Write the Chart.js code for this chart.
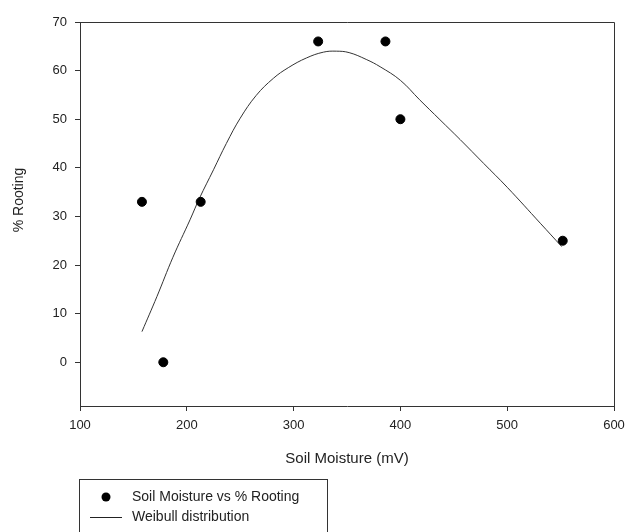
<!DOCTYPE html>
<html>
<head>
<meta charset="utf-8">
<title>Soil Moisture vs % Rooting</title>
<script src="https://cdn.jsdelivr.net/npm/chart.js@4.4.1/dist/chart.umd.min.js"></script>
<style>
    html, body { margin: 0; padding: 0; background: #fff; }
    #wrap { width: 627px; height: 532px; }
</style>
</head>
<body>
<div id="wrap"><canvas id="rootChart" width="627" height="532"></canvas></div>
<script>
// Measured points
const moistureX = [158, 178, 213, 323, 386, 400, 552];
const rootingY = [33, 0, 33, 66, 66, 50, 25];

// Fitted Weibull curve
const curveX = [158, 172, 187, 203, 212, 225, 237, 250, 265, 281, 295, 312, 328, 340, 352, 368, 381, 400, 418, 437, 456, 478, 500, 531, 551];
const curveY = [6.3, 13.5, 21.6, 29.3, 33.8, 39.6, 45.0, 50.2, 54.9, 58.4, 60.6, 62.6, 63.8, 64.0, 63.7, 62.3, 60.8, 58.0, 54.0, 49.9, 45.8, 40.9, 36.0, 28.6, 23.8];

// Axis ticks
const xTicks = [100, 200, 300, 400, 500, 600];
const yTicks = [0, 10, 20, 30, 40, 50, 60, 70];

const seriesLabels = ['Soil Moisture vs % Rooting', 'Weibull distribution'];
const axisTitles = { x: 'Soil Moisture (mV)', y: '% Rooting' };

const FONT = 'Arial, "Liberation Sans", sans-serif';
const AXIS_COLOR = '#333';

// box round the plot + axis titles + boxed legend
const framePlugin = {
    id: 'frame',
    afterDraw(chart) {
        const { ctx, chartArea: a } = chart;
        ctx.save();
        ctx.strokeStyle = AXIS_COLOR;
        ctx.lineWidth = 1;
        ctx.beginPath();
        ctx.moveTo(a.left, a.top + 0.5);
        ctx.lineTo(a.right + 0.5, a.top + 0.5);
        ctx.lineTo(a.right + 0.5, a.bottom);
        ctx.stroke();

        ctx.fillStyle = '#222';
        ctx.textAlign = 'center';
        ctx.textBaseline = 'middle';
        ctx.font = '15px ' + FONT;
        ctx.fillText(axisTitles.x, (a.left + a.right) / 2, 459);

        ctx.save();
        ctx.translate(19, 200);
        ctx.rotate(-Math.PI / 2);
        ctx.font = '14px ' + FONT;
        ctx.fillText(axisTitles.y, 0, 0);
        ctx.restore();

        // legend
        ctx.strokeStyle = AXIS_COLOR;
        ctx.strokeRect(79.5, 479.5, 248, 70);
        ctx.fillStyle = '#000';
        ctx.beginPath();
        ctx.arc(106, 497, 4.5, 0, Math.PI * 2);
        ctx.fill();
        ctx.strokeStyle = '#222';
        ctx.beginPath();
        ctx.moveTo(90, 517.5);
        ctx.lineTo(122, 517.5);
        ctx.stroke();
        ctx.fillStyle = '#222';
        ctx.textAlign = 'left';
        ctx.font = '14px ' + FONT;
        ctx.fillText(seriesLabels[0], 132, 497);
        ctx.fillText(seriesLabels[1], 132, 517);
        ctx.restore();
    }
};

function initChart() {
    const ctx = document.getElementById('rootChart');

    new Chart(ctx, {
        type: 'scatter',
        data: {
            datasets: [{
                label: seriesLabels[0],
                data: moistureX.map((x, i) => ({ x: x, y: rootingY[i] })),
                backgroundColor: '#000',
                borderColor: '#000',
                pointRadius: 4.5,
                pointHoverRadius: 4.5
            }, {
                label: seriesLabels[1],
                type: 'line',
                data: curveX.map((x, i) => ({ x: x, y: curveY[i] })),
                borderColor: '#333',
                borderWidth: 1,
                pointRadius: 0,
                fill: false,
                tension: 0.4
            }]
        },
        options: {
            responsive: false,
            animation: false,
            layout: { padding: { top: 22, right: 13, left: 0, bottom: 0 } },
            plugins: {
                legend: { display: false },
                tooltip: { enabled: false }
            },
            scales: {
                x: {
                    type: 'linear',
                    min: 100,
                    max: 600,
                    afterBuildTicks: scale => { scale.ticks = xTicks.map(v => ({ value: v })); },
                    afterFit: scale => {
                        scale.height = 126;
                        scale.paddingRight = 0;
                        scale.paddingLeft = 0;
                    },
                    grid: { drawOnChartArea: false, tickLength: 5, tickColor: AXIS_COLOR },
                    border: { color: AXIS_COLOR, width: 1 },
                    ticks: {
                        color: '#222',
                        font: { family: FONT, size: 13 },
                        padding: 7,
                        maxRotation: 0
                    }
                },
                y: {
                    min: -9,
                    max: 70,
                    afterBuildTicks: scale => { scale.ticks = yTicks.map(v => ({ value: v })); },
                    afterFit: scale => { scale.width = 80; },
                    grid: { drawOnChartArea: false, tickLength: 5, tickColor: AXIS_COLOR },
                    border: { color: AXIS_COLOR, width: 1 },
                    ticks: {
                        color: '#222',
                        font: { family: FONT, size: 13 },
                        padding: 8
                    }
                }
            }
        },
        plugins: [framePlugin]
    });
}

document.addEventListener('DOMContentLoaded', initChart);
</script>
</body>
</html>
